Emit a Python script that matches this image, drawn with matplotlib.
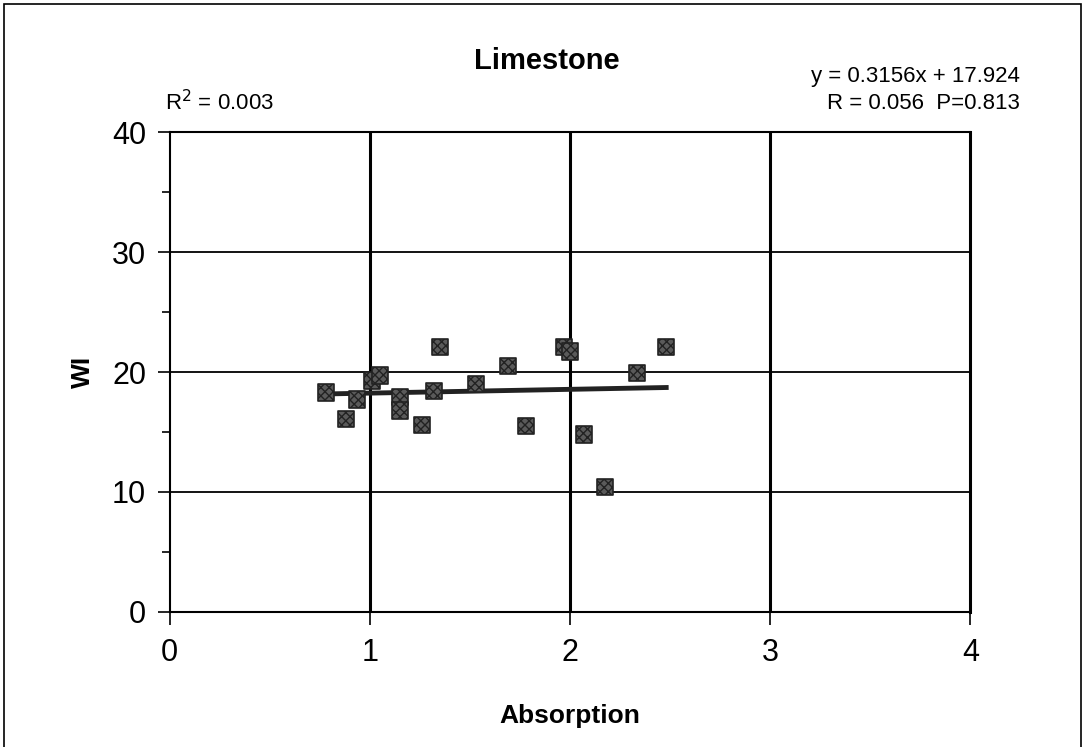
import matplotlib
matplotlib.use("Agg")
import matplotlib.pyplot as plt
from matplotlib.patches import Rectangle
import numpy as np

absorption = [0.78, 0.88, 0.935, 1.01, 1.05, 1.15, 1.15, 1.26, 1.32, 1.35,
              1.53, 1.69, 1.78, 1.97, 2.00, 2.07, 2.175, 2.335, 2.48]
wi = [18.3, 16.1, 17.7, 19.3, 19.7, 17.9, 16.8, 15.6, 18.4, 22.1,
      19.0, 20.5, 15.5, 22.1, 21.7, 14.8, 10.4, 19.9, 22.1]
slope = 0.3156
intercept = 17.924
x_ticks = [0, 1, 2, 3, 4]
y_ticks = [0, 10, 20, 30, 40]

plt.rcParams['font.family'] = ['Liberation Sans', 'DejaVu Sans']

fig = plt.figure(figsize=(10.88, 7.47), dpi=100)
fig.patches.append(Rectangle((0.004, -0.01), 0.99, 1.005, transform=fig.transFigure,
                             fill=False, edgecolor='black', linewidth=1.2))
ax = fig.add_axes([0.156, 0.181, 0.736, 0.642])

ax.set_xlim(0, 4)
ax.set_ylim(0, 40)
ax.set_xticks(x_ticks)
ax.set_yticks(y_ticks)
ax.set_yticks([5, 15, 25, 35], minor=True)
ax.tick_params(axis='both', which='major', direction='out', length=9, width=1.2,
               labelsize=22, pad=8, color='black')
ax.tick_params(axis='y', which='minor', direction='out', length=6, width=1.2)
ax.tick_params(axis='x', pad=10)

for xv in x_ticks[1:4]:
    ax.axvline(xv, color='black', linewidth=2.2, zorder=1)
for yv in y_ticks[1:4]:
    ax.axhline(yv, color='black', linewidth=1.3, zorder=1)
for s in ax.spines.values():
    s.set_linewidth(1.5)
ax.spines['right'].set_linewidth(2.2)

xs = np.array([min(absorption), max(absorption)])
ax.plot(xs, slope * xs + intercept, color='#222222', linewidth=3.5, zorder=2)

ax.scatter(absorption, wi, marker='s', s=140, facecolor='#5a5a5a',
           edgecolor='#222222', linewidth=1.2, hatch='xxxx', zorder=3)

ax.set_xlabel('Absorption', fontsize=19, fontweight='bold', labelpad=26)
ax.set_ylabel('WI', fontsize=19, fontweight='bold', labelpad=12)

fig.text(0.503, 0.918, 'Limestone', ha='center', va='center', fontsize=21, fontweight='bold')
fig.text(0.152, 0.862, r'R$^2$ = 0.003', ha='left', va='center', fontsize=16)
fig.text(0.937, 0.897, 'y = 0.3156x + 17.924', ha='right', va='center', fontsize=16)
fig.text(0.937, 0.862, 'R = 0.056  P=0.813', ha='right', va='center', fontsize=16)

fig.savefig('out.png', dpi=100)
